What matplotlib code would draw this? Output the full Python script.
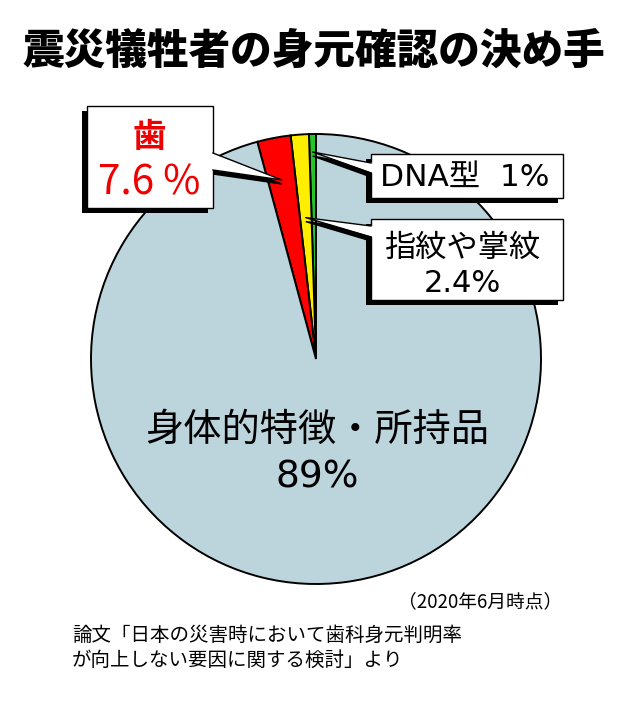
import matplotlib
matplotlib.use("Agg")
import matplotlib.pyplot as plt
from matplotlib.patches import Rectangle, Polygon
import numpy as np

plt.rcParams['font.family'] = ['Noto Sans CJK JP', 'DejaVu Sans']
LATIN_FIRST = ['DejaVu Sans', 'Noto Sans CJK JP']

# data (label values as printed; wedge sizes as drawn in the picture)
categories = ['DNA型', '指紋や掌紋', '歯', '身体的特徴・所持品']
label_values = ['1%', '2.4%', '7.6 %', '89%']
drawn_share = [0.5, 1.3, 2.4, 95.8]
colors = ['#22c52a', '#ffee00', '#ff0000', '#bcd4dc']

title = '震災犠牲者の身元確認の決め手'
note = '（2020年6月時点）'
source = '論文「日本の災害時において歯科身元判明率\nが向上しない要因に関する検討」より'

W, H = 628, 702
fig = plt.figure(figsize=(W / 100, H / 100), dpi=100, facecolor='white')
ax = fig.add_axes([0, 0, 1, 1])

cx, cy, R = 316, 359, 225
wedges, _ = ax.pie(drawn_share, colors=colors, startangle=270, counterclock=False,
                   center=(cx, cy), radius=R, frame=True,
                   wedgeprops=dict(edgecolor='black', linewidth=1.4))
ax.set_xlim(0, W)
ax.set_ylim(H, 0)
ax.axis('off')


def tip(w, frac):
    a = np.deg2rad((w.theta1 + w.theta2) / 2)
    return (cx + frac * R * np.cos(a), cy + frac * R * np.sin(a))


def callout(x0, y0, x1, y1, base_x, base_y0, base_y1, tip_xy, sh=5):
    # shadow
    ax.add_patch(Rectangle((x0 - sh, y0 + sh), x1 - x0, y1 - y0, facecolor='black',
                           edgecolor='none', zorder=5))
    tri = [(base_x, base_y0), tip_xy, (base_x, base_y1)]
    ax.add_patch(Polygon([(p[0], p[1] + 4) for p in tri], closed=True,
                         facecolor='black', edgecolor='black', lw=1, zorder=5))
    # box and pointer
    ax.add_patch(Rectangle((x0, y0), x1 - x0, y1 - y0, facecolor='white',
                           edgecolor='black', lw=1, zorder=6))
    inner = 2 if base_x == x1 else -2
    ax.add_patch(Polygon([(base_x - inner, base_y0), tip_xy, (base_x - inner, base_y1)],
                         closed=True, facecolor='white', edgecolor='none', zorder=7))
    ax.plot([base_x, tip_xy[0], base_x], [base_y0, tip_xy[1], base_y1],
            color='black', lw=1, zorder=7)


# teeth
callout(87, 106, 213, 208, 213, 153, 170, tip(wedges[2], 0.81))
ax.text(149, 137, categories[2], color='#ee0000', fontsize=24, fontweight='bold',
        ha='center', va='center', zorder=8)
ax.text(149, 183, label_values[2], color='#ee0000', fontsize=29,
        ha='center', va='center', zorder=8)

# DNA
callout(371, 154, 563, 198, 371, 163, 173, tip(wedges[0], 0.92))
ax.text(465, 177, categories[0] + '  ' + label_values[0], fontsize=22.5,
        family=LATIN_FIRST, ha='center', va='center', zorder=8)

# fingerprints
callout(371, 219, 563, 300, 371, 226, 237, tip(wedges[1], 0.63))
ax.text(462, 248, categories[1], fontsize=22.5, ha='center', va='center', zorder=8)
ax.text(462, 283, label_values[1], fontsize=22, family=LATIN_FIRST,
        ha='center', va='center', zorder=8)

# main slice
ax.text(317, 430, categories[3], fontsize=27.5, ha='center', va='center', zorder=8)
ax.text(317, 478, label_values[3], fontsize=27, family=LATIN_FIRST,
        ha='center', va='center', zorder=8)

ax.text(314, 52, title, fontsize=30, fontweight='heavy', ha='center', va='center')
ax.text(562, 602, note, fontsize=13.5, ha='right', va='center')
ax.text(72, 648, source, fontsize=14, ha='left', va='center', linespacing=1.25)

fig.savefig('out.png', dpi=100, facecolor='white')
